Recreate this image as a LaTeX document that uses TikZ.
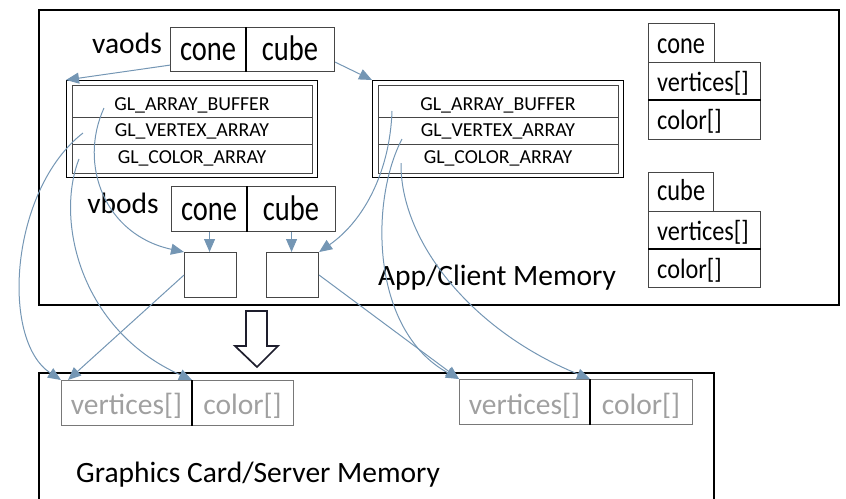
\documentclass[tikz,border=0pt]{standalone}
\usepackage{fontspec}
\setmainfont{Carlito}
\usepackage{graphicx}
\usetikzlibrary{arrows.meta}
\definecolor{linkc}{RGB}{116,150,180}
\definecolor{boxc}{RGB}{70,70,70}
\definecolor{greytext}{RGB}{160,160,160}
\definecolor{greybox}{RGB}{120,120,120}
\definecolor{bigarrow}{RGB}{30,30,45}
\newcommand{\tallt}[1]{\scalebox{1}[1.25]{#1}}
\begin{document}
\begin{tikzpicture}[x=1pt,y=-1pt,
  cell/.style={draw=boxc, line width=1.1pt, inner sep=0pt, anchor=north west},
  gcell/.style={draw=greybox, line width=1.1pt, inner sep=0pt, anchor=north west},
  frame/.style={draw=black, line width=2.4pt},
  link/.style={draw=linkc, line width=1pt, -{Triangle[length=13pt,width=11pt]}},
  lbl/.style={anchor=base, inner sep=0pt},
  lbll/.style={anchor=base west, inner sep=0pt},
  bigf/.style={font=\fontsize{29.5}{32}\selectfont},
  tabf/.style={font=\fontsize{28.5}{30}\selectfont},
  smallf/.style={font=\fontsize{24.3}{26}\selectfont},
  glf/.style={font=\fontsize{19.8}{21}\selectfont},
]
\useasboundingbox (0,0) rectangle (846,498);

% memory areas
\draw[frame] (39,10) rectangle (839,305);
\draw[frame] (39,500) -- (39,373) -- (714,373) -- (714,500);

% vaods handles
\node[lbl,bigf] (vaodslbl) at (127,53) {vaods};
\node[cell, minimum width=76pt, minimum height=44pt] (vcone) at (170,27) {};
\node[cell, minimum width=88pt, minimum height=44pt] (vcube) at (246,27) {};
\draw[black, line width=1.1pt] (vcube.north west) -- (vcube.south west);
\node[lbl,tabf] at (208,60) {\tallt{cone}};
\node[lbl,tabf] at (290,60) {\tallt{cube}};

% vertex array objects
\foreach \n/\x in {vao1/66, vao2/372}{
  \node[draw=black, line width=1.1pt, inner sep=0pt, anchor=north west,
        minimum width=251pt, minimum height=97pt] (\n) at (\x,80) {};
}
\foreach \n/\x/\c in {vao1/72/192, vao2/378/498}{
  \node[cell, minimum width=240pt, minimum height=32pt] (\n r1) at (\x,85) {};
  \node[cell, minimum width=240pt, minimum height=27pt] (\n r2) at (\x,117) {};
  \node[cell, minimum width=240pt, minimum height=29pt] (\n r3) at (\x,144) {};
  \node[lbl,glf] at (\c,110) {GL\_ARRAY\_BUFFER};
  \node[lbl,glf] at (\c,136) {GL\_VERTEX\_ARRAY};
  \node[lbl,glf] at (\c,163) {GL\_COLOR\_ARRAY};
}

% vbods handles and buffer objects
\node[lbl,bigf] (vbodslbl) at (123,213) {vbods};
\node[cell, minimum width=76pt, minimum height=45pt] (bcone) at (171,186) {};
\node[cell, minimum width=88pt, minimum height=45pt] (bcube) at (247,186) {};
\draw[black, line width=1.1pt] (bcube.north west) -- (bcube.south west);
\node[lbl,tabf] at (209,220) {\tallt{cone}};
\node[lbl,tabf] at (291,220) {\tallt{cube}};
\node[cell, minimum width=52pt, minimum height=45pt] (sq1) at (184,252) {};
\node[cell, minimum width=52pt, minimum height=45pt] (sq2) at (266,252) {};

% client-side arrays
\node[cell, minimum width=66pt, minimum height=39pt] (conet) at (648,23) {};
\node[cell, minimum width=112pt, minimum height=38pt] (conev) at (648,62) {};
\node[cell, minimum width=112pt, minimum height=39pt] (conec) at (648,100) {};
\draw[black, line width=1.1pt] (conec.north west) -- (conec.north east);
\node[lbll,smallf] at (657,53) {\tallt{cone}};
\node[lbll,smallf] at (657,91) {\scalebox{1}[1.15]{vertices[]}};
\node[lbll,smallf] at (657,129) {\scalebox{1}[1.15]{color[]}};

\node[cell, minimum width=65pt, minimum height=39pt] (cubet) at (648,172) {};
\node[cell, minimum width=112pt, minimum height=38pt] (cubev) at (648,211) {};
\node[cell, minimum width=112pt, minimum height=38pt] (cubec) at (648,249) {};
\draw[black, line width=1.1pt] (cubec.north west) -- (cubec.north east);
\node[lbll,smallf] at (657,200) {\tallt{cube}};
\node[lbll,smallf] at (657,240) {\scalebox{1}[1.15]{vertices[]}};
\node[lbll,smallf] at (657,278) {\scalebox{1}[1.15]{color[]}};

\node[lbl,bigf] (applbl) at (497,285) {App/Client Memory};

% transfer arrow
\draw[line width=1.7pt, draw=bigarrow, fill=white]
  (246,311) -- (267,311) -- (267,346) -- (278,346) -- (257,367) -- (235,346) -- (246,346) -- cycle;

% server-side buffers
\node[gcell, minimum width=131pt, minimum height=45pt] (gv1) at (61,380) {};
\node[gcell, minimum width=101pt, minimum height=45pt] (gc1) at (192,380) {};
\draw[black, line width=1.1pt] (gc1.north west) -- (gc1.south west);
\node[gcell, minimum width=131pt, minimum height=45pt] (gv2) at (459,379) {};
\node[gcell, minimum width=102pt, minimum height=45pt] (gc2) at (590,379) {};
\draw[black, line width=1.1pt] (gc2.north west) -- (gc2.south west);
\node[lbl,bigf,text=greytext] at (126.5,414) {vertices[]};
\node[lbl,bigf,text=greytext] at (242.5,414) {color[]};
\node[lbl,bigf,text=greytext] at (524.5,414) {vertices[]};
\node[lbl,bigf,text=greytext] at (641,414) {color[]};

\node[lbll,bigf] (gfxlbl) at (76,482) {Graphics Card/Server Memory};

% connector start points inside the table rows
\coordinate (a1) at (104,108);
\coordinate (v1) at (83,133);
\coordinate (c1) at (79,159);
\coordinate (a2) at (392,111);
\coordinate (v2) at (402,139);
\coordinate (c2) at (401,163);

% connectors
\draw[link] ([yshift=7pt]vcone.south west) -- (vao1.north west);
\draw[link] ([yshift=10pt]vcube.south east) -- (vao2.north west);
\draw[link] (bcone.south) -- (bcone.south |- sq1.north);
\draw[link] (bcube.south) -- (bcube.south |- sq2.north);
\draw[link] (a1) .. controls (78,165) and (105,235) .. (sq1.north west);
\draw[link] (a2) .. controls (390,170) and (365,220) .. (sq2.north east);
\draw[link] (v1) .. controls (10,190) and (0,340) .. (gv1.north west);
\draw[link] (c1) .. controls (55,220) and (80,330) .. (gc1.north west);
\draw[link] (sq1.west) -- ([xshift=7pt]gv1.north west);
\draw[link] (sq2.east) -- (gv2.north west);
\draw[link] (v2) .. controls (370,200) and (370,330) .. (gv2.north west);
\draw[link] (c2) .. controls (400,240) and (470,330) .. (gc2.north west);
\end{tikzpicture}
\end{document}
